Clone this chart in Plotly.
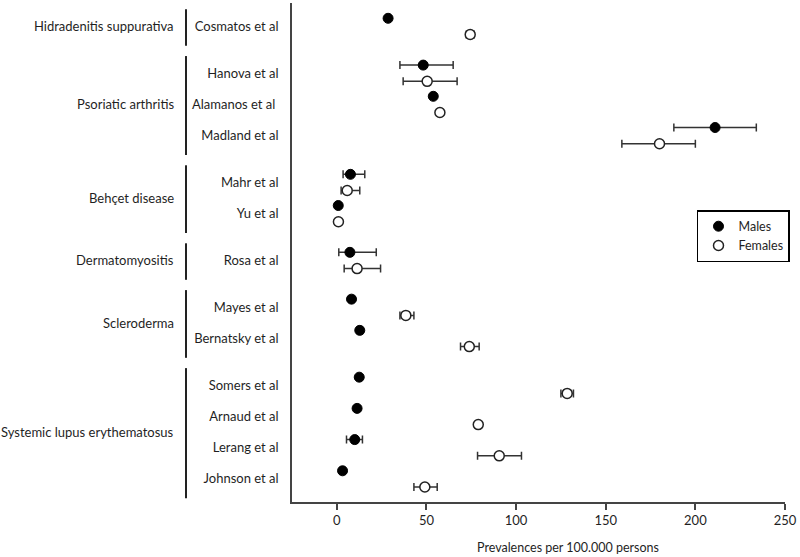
import plotly.graph_objects as go

# ---- data ----
group_names = ["Hidradenitis suppurativa", "Psoriatic arthritis", "Behçet disease",
               "Dermatomyositis", "Scleroderma", "Systemic lupus erythematosus"]
studies = ["Cosmatos et al", "Hanova et al", "Alamanos et al ", "Madland et al",
           "Mahr et al", "Yu et al", "Rosa et al", "Mayes et al", "Bernatsky et al",
           "Somers et al", "Arnaud et al", "Lerang et al", "Johnson et al"]
study_group = [0, 1, 1, 1, 2, 2, 3, 4, 4, 5, 5, 5, 5]

male = [28.6, 48.2, 53.8, 211, 7.6, 0.8, 7.3, 8.2, 12.8, 12.5, 11.3, 10.0, 3.2]
male_lo = [27.5, 35.2, None, 188, 3.5, 0.3, 1.1, 7.2, 11.3, 11.5, None, 5.4, 2.0]
male_hi = [29.7, 64.9, None, 234, 15.6, 1.3, 22.0, 9.2, 14.3, 13.5, None, 14.3, 4.4]

female = [74.4, 50.4, 57.5, 180, 5.8, 0.9, 11.3, 38.5, 73.9, 128.5, 78.9, 90.6, 49.1]
female_lo = [72.2, 37.0, None, 159, 2.4, 0.4, 4.1, 35.2, 69.0, 125.0, None, 78.5, 43.0]
female_hi = [76.6, 67.1, None, 200, 12.8, 1.4, 24.4, 43.0, 79.4, 132.0, None, 103.0, 56.0]

x_ticks = [0, 50, 100, 150, 200, 250]
x_title = "Prevalences per 100.000 persons"

# ---- layout helpers ----
FONT = "Lato, 'Open Sans', sans-serif"
TXT = "#1f1f1f"
ROW_STEP = 1.0
GROUP_GAP = 0.5
OFFSET = 0.26

rows = []
pos = 0.0
for i, g in enumerate(study_group):
    if i > 0:
        pos += ROW_STEP + (GROUP_GAP if g != study_group[i - 1] else 0)
    rows.append(pos)

def errs(v, lo, hi):
    plus = [(h - x) if h is not None else 0 for x, h in zip(v, hi)]
    minus = [(x - l) if l is not None else 0 for x, l in zip(v, lo)]
    return plus, minus

mp, mm = errs(male, male_lo, male_hi)
fp, fm = errs(female, female_lo, female_hi)

fig = go.Figure()
err_style = dict(type="data", symmetric=False, color="#333333", thickness=1.5, width=4)

fig.add_trace(go.Scatter(
    x=male, y=[r - OFFSET for r in rows], mode="markers", name="Males",
    marker=dict(size=10, color="black", line=dict(color="black", width=1)),
    error_x=dict(array=mp, arrayminus=mm, **err_style),
))
fig.add_trace(go.Scatter(
    x=female, y=[r + OFFSET for r in rows], mode="markers", name="Females",
    marker=dict(size=10, color="white", line=dict(color="#222222", width=1.5)),
    error_x=dict(array=fp, arrayminus=fm, **err_style),
))

# group bars and labels
shapes = []
annotations = []
for gi, gname in enumerate(group_names):
    grows = [r for r, g in zip(rows, study_group) if g == gi]
    shapes.append(dict(type="line", xref="paper", yref="y", x0=-0.215, x1=-0.215,
                       y0=min(grows) - 0.55, y1=max(grows) + 0.62,
                       line=dict(color="#222222", width=2)))
    annotations.append(dict(xref="paper", yref="y", x=-0.2353, y=sum(grows) / len(grows),
                            text=gname, showarrow=False, xanchor="right", yanchor="middle",
                            font=dict(family=FONT, size=13, color=TXT)))

annotations.append(dict(xref="paper", yref="paper", x=0.56, y=-0.072, text=x_title,
                        showarrow=False, xanchor="center", yanchor="top",
                        font=dict(family=FONT, size=12.5, color=TXT)))

fig.update_layout(
    width=800, height=557,
    margin=dict(l=292, r=15, t=3, b=55),
    plot_bgcolor="white", paper_bgcolor="white",
    font=dict(family=FONT, size=12, color=TXT),
    shapes=shapes, annotations=annotations,
    legend=dict(x=0.8215, y=0.585, xanchor="left", yanchor="top",
                bordercolor="black", borderwidth=1.5, bgcolor="white",
                font=dict(family=FONT, size=12.5, color=TXT),
                itemsizing="trace"),
    xaxis=dict(range=[-25, 250], tickvals=x_ticks, ticks="outside", ticklen=6,
               tickwidth=1.5, tickcolor="#444444", showline=True, linecolor="#444444",
               linewidth=1.5, showgrid=False, zeroline=False,
               tickfont=dict(family=FONT, size=13, color=TXT)),
    yaxis=dict(range=[15.24, -0.75], tickvals=rows, ticktext=studies, ticks="",
               showline=True, linecolor="#444444", linewidth=1.5, showgrid=False,
               zeroline=False, ticklabelstandoff=9,
               tickfont=dict(family=FONT, size=13, color=TXT)),
)

fig.write_html("out.html", config={"displayModeBar": False},
               post_script="document.body.style.margin='0';")
